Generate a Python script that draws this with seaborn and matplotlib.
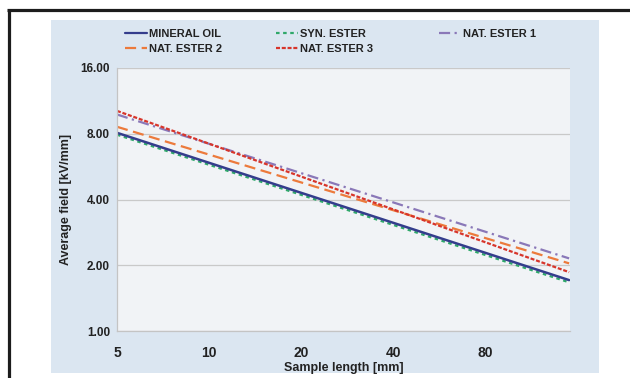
import numpy as np
import matplotlib
matplotlib.use("Agg")
import matplotlib.pyplot as plt
import seaborn as sns
import pandas as pd
from matplotlib.patches import Rectangle
from matplotlib.lines import Line2D
from matplotlib.ticker import FixedLocator, NullLocator

# values (straight lines on log-log axes)
sample_length = [5, 150]
mineral_oil = [8.08, 1.71]
syn_ester = [7.92, 1.67]
nat_ester_1 = [9.8, 2.15]
nat_ester_2 = [8.61, 2.04]
nat_ester_3 = [10.18, 1.86]

series_names = ['MINERAL OIL', 'SYN. ESTER', 'NAT. ESTER 1', 'NAT. ESTER 2', 'NAT. ESTER 3']
x_ticks = [5, 10, 20, 40, 80]
y_ticks = [1, 2, 4, 8, 16]
y_tick_labels = ['1.00', '2.00', '4.00', '8.00', '16.00']

data = pd.DataFrame({
    'Sample length': sample_length * 5,
    'Field': syn_ester + mineral_oil + nat_ester_2 + nat_ester_1 + nat_ester_3,
    'Oil': ['SYN. ESTER'] * 2 + ['MINERAL OIL'] * 2 + ['NAT. ESTER 2'] * 2
           + ['NAT. ESTER 1'] * 2 + ['NAT. ESTER 3'] * 2,
})

colors = {
    'MINERAL OIL': '#343d8c',
    'SYN. ESTER': '#2fa86a',
    'NAT. ESTER 1': '#8a78b8',
    'NAT. ESTER 2': '#ec7a3c',
    'NAT. ESTER 3': '#d7352b',
}
dashes = {
    'MINERAL OIL': '',
    'SYN. ESTER': (1.6, 1.6),
    'NAT. ESTER 1': (5, 2, 1, 2),
    'NAT. ESTER 2': (5, 2.5),
    'NAT. ESTER 3': (1.8, 0.8),
}

sns.set_theme(style="white")
plt.rcParams['font.family'] = ['Liberation Sans', 'DejaVu Sans']

fig = plt.figure(figsize=(6.3, 3.78), dpi=100)
W, H = 630, 378

# light blue chart panel and black outer frame
fig.add_artist(Rectangle((51 / W, 5 / H), 548 / W, 353 / H, transform=fig.transFigure,
                         facecolor='#dbe6f1', edgecolor='none', zorder=0))
fig.add_artist(Line2D([8.5 / W, 8.5 / W], [0, 1 - 9.5 / H], transform=fig.transFigure,
                      color='#1c1c1c', linewidth=2.3, solid_capstyle='butt'))
fig.add_artist(Line2D([8.5 / W - 0.002, 1], [1 - 9.5 / H, 1 - 9.5 / H], transform=fig.transFigure,
                      color='#1c1c1c', linewidth=2.3, solid_capstyle='butt'))

ax = fig.add_axes([117 / W, 47 / H, 453 / W, 263 / H])
ax.set_facecolor('#f1f3f6')

sns.lineplot(data=data, x='Sample length', y='Field', hue='Oil', style='Oil',
             palette=colors, dashes=dashes, linewidth=1.6, ax=ax, legend=False)
for ln in ax.get_lines():
    ln.set_dash_capstyle('butt')
ax.get_lines()[1].set_linewidth(1.8)

ax.set_xscale('log')
ax.set_yscale('log')
ax.set_xlim(5, 151)
ax.set_ylim(1, 16)
ax.xaxis.set_major_locator(FixedLocator(x_ticks))
ax.xaxis.set_minor_locator(NullLocator())
ax.set_xticklabels([str(v) for v in x_ticks])
ax.yaxis.set_major_locator(FixedLocator(y_ticks))
ax.yaxis.set_minor_locator(NullLocator())
ax.set_yticklabels(y_tick_labels)

ax.grid(axis='y', color='#c9c9c9', linewidth=0.9)
ax.grid(axis='x', visible=False)
for side in ['top', 'right']:
    ax.spines[side].set_visible(False)
for side in ['left', 'bottom']:
    ax.spines[side].set_color('#c4c4c4')
    ax.spines[side].set_linewidth(0.9)
ax.tick_params(axis='both', which='major', length=3, width=0.8, color='#c4c4c4',
               direction='out', pad=3)
ax.tick_params(axis='x', labelsize=10, pad=8)
ax.tick_params(axis='y', labelsize=8.5, pad=2)
for lbl in ax.get_xticklabels() + ax.get_yticklabels():
    lbl.set_fontweight('bold')
    lbl.set_color('#222222')

ax.set_xlabel('Sample length [mm]', fontsize=9, fontweight='bold', color='#222222', labelpad=1)
ax.set_ylabel('Average field [kV/mm]', fontsize=9, fontweight='bold', color='#222222', labelpad=6)

# legend in three columns placed across the top of the blue panel
handle_map = {}
for name in series_names:
    handle_map[name] = Line2D([], [], color=colors[name], linewidth=1.6,
                              dashes=dashes[name] if dashes[name] else (None, None),
                              dash_capstyle='butt')
columns = [(['MINERAL OIL', 'NAT. ESTER 2'], 125),
           (['SYN. ESTER', 'NAT. ESTER 3'], 276),
           (['NAT. ESTER 1'], 439)]
for names, xpx in columns:
    fig.legend([handle_map[n] for n in names], names, loc='upper left',
               bbox_to_anchor=(xpx / W, 1 - 29 / H), frameon=False,
               prop={'size': 8, 'weight': 'bold'}, handlelength=2.0,
               handletextpad=0.15, labelspacing=0.45, borderpad=0, borderaxespad=0,
               labelcolor='#222222')

fig.savefig('out.png', dpi=100)
